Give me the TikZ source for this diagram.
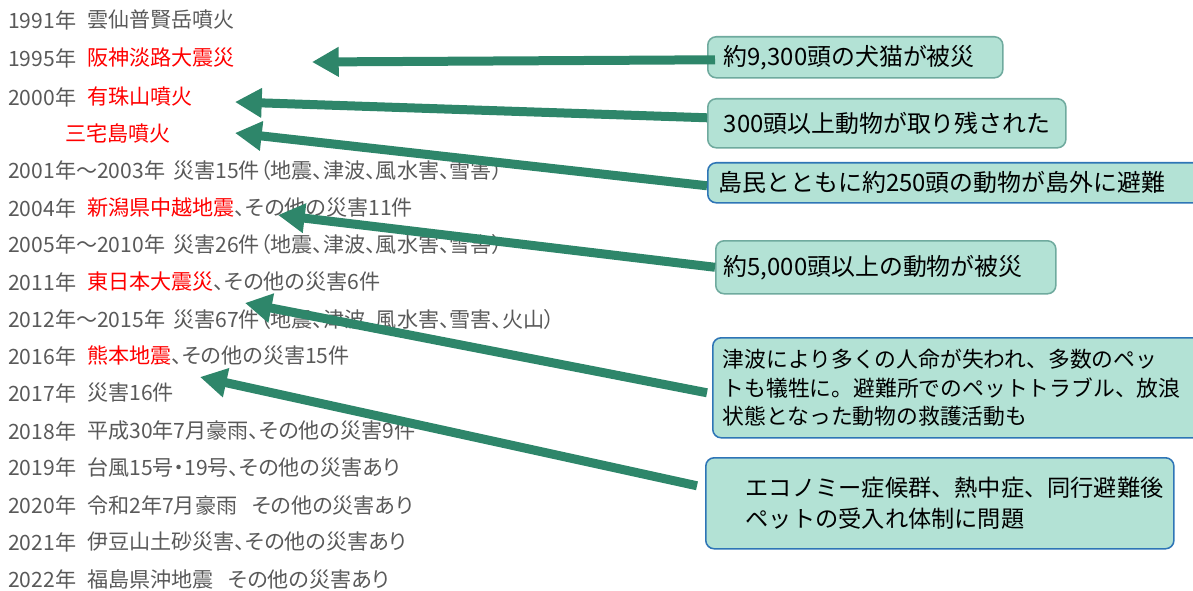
\documentclass[tikz,border=0pt]{standalone}
\usepackage{fontspec}
\setmainfont{Noto Sans CJK JP}
\newfontfamily\listfont[RawFeature=+palt]{Noto Sans CJK JP}
\usetikzlibrary{arrows.meta,calc}

\definecolor{listgray}{RGB}{89,89,89}
\definecolor{evred}{RGB}{255,0,0}
\definecolor{arrgreen}{RGB}{46,134,106}
\definecolor{boxfill}{RGB}{179,226,213}
\definecolor{boxedge}{RGB}{111,170,158}
\definecolor{boxblue}{RGB}{46,117,182}

\tikzset{
  yeartext/.style={anchor=west, inner sep=0pt, text=listgray,
    font=\listfont\fontsize{15}{18}\selectfont},
  evtext/.style={yeartext, text=evred},
  notebox/.style={draw=boxedge, line width=1.1pt, fill=boxfill,
    rounded corners=6pt, anchor=north west, align=left, inner ysep=0pt,
    font=\fontsize{17}{20.5}\selectfont},
  bluebox/.style={notebox, draw=boxblue},
  pointer/.style={draw=arrgreen, line width=6.4pt,
    -{Triangle[length=19pt,width=20pt]}}
}

\begin{document}
\begin{tikzpicture}[x=0.025cm,y=-0.025cm]
\useasboundingbox (0,0) rectangle (1193,591);

% list of years
\node[yeartext] (y1991) at (8,20)  {1991年};
\node[yeartext] (e1991) at (87,20) {雲仙普賢岳噴火};
\node[yeartext] (y1995) at (8,58)  {1995年};
\node[evtext]   (e1995) at (87,58) {阪神淡路大震災};
\node[yeartext] (y2000) at (8,97)  {2000年};
\node[evtext]   (e2000) at (87,97) {有珠山噴火};
\node[evtext]   (e2000b) at (65,133) {三宅島噴火};
\node[yeartext] (y2001) at (8,170) {2001年～2003年};
\node[yeartext] (e2001) at (173,170) {災害15件（地震、津波、風水害、雪害）};
\node[yeartext] (y2004) at (8,208) {2004年};
\node[yeartext] (e2004) at (87,208) {\textcolor{evred}{新潟県中越地震}、その他の災害11件};
\node[yeartext] (y2005) at (8,244) {2005年～2010年};
\node[yeartext] (e2005) at (173,244) {災害26件（地震、津波、風水害、雪害）};
\node[yeartext] (y2011) at (8,282) {2011年};
\node[yeartext] (e2011) at (87,282) {\textcolor{evred}{東日本大震災}、その他の災害6件};
\node[yeartext] (y2012) at (8,319) {2012年～2015年};
\node[yeartext] (e2012) at (173,319) {災害67件（地震、津波、風水害、雪害、火山）};
\node[yeartext] (y2016) at (8,356) {2016年};
\node[yeartext] (e2016) at (87,356) {\textcolor{evred}{熊本地震}、その他の災害15件};
\node[yeartext] (y2017) at (8,393) {2017年};
\node[yeartext] (e2017) at (87,393) {災害16件};
\node[yeartext] (y2018) at (8,431) {2018年};
\node[yeartext] (e2018) at (87,431) {平成30年7月豪雨、その他の災害9件};
\node[yeartext] (y2019) at (8,467) {2019年};
\node[yeartext] (e2019) at (87,467) {台風15号・19号、その他の災害あり};
\node[yeartext] (y2020) at (8,505) {2020年};
\node[yeartext] (e2020) at (87,505) {令和2年7月豪雨\hspace{0.7em}その他の災害あり};
\node[yeartext] (y2021) at (8,542) {2021年};
\node[yeartext] (e2021) at (87,542) {伊豆山土砂災害、その他の災害あり};
\node[yeartext] (y2022) at (8,579) {2022年};
\node[yeartext] (e2022) at (87,579) {福島県沖地震\hspace{0.7em}その他の災害あり};

% notes
\node[notebox, inner xsep=0.4cm, text width=6.575cm, minimum height=1.025cm]
  (b1) at (707,36) {約9,300頭の犬猫が被災};
\node[notebox, inner xsep=0.4cm, text width=8.15cm, minimum height=1.225cm]
  (b2) at (707,98) {300頭以上動物が取り残された};
\node[bluebox, inner xsep=0.275cm, text width=12.45cm, minimum height=1.0cm]
  (b3) at (707,162) {島民とともに約250頭の動物が島外に避難};
\node[notebox, inner xsep=0.2cm, text width=8.1cm, minimum height=1.325cm]
  (b4) at (715,240) {約5,000頭以上の動物が被災};
\node[bluebox, inner xsep=0.25cm, text width=12.5cm, minimum height=2.5cm,
  font=\fontsize{15.5}{20.5}\selectfont]
  (b5) at (712,337) {津波により多くの人命が失われ、多数のペッ\\
  トも犠牲に。避難所でのペットトラブル、放浪\\状態となった動物の救護活動も};
\node[bluebox, inner xsep=1cm, text width=9.7cm, minimum height=2.275cm,
  font=\fontsize{16.5}{21.5}\selectfont]
  (b6) at (705,457) {エコノミー症候群、熱中症、同行避難後\\ペットの受入れ体制に問題};

% arrow tips
\coordinate (t1) at (312,62);
\coordinate (t2) at (235,102);
\coordinate (t3) at (235,133);
\coordinate (t4) at (278,215);
\coordinate (t5) at (245,303);
\coordinate (t6) at (200,377);

\draw[pointer] ($(b1.west)+(8,2.5)$) -- (t1);
\draw[pointer] ($(b2.west)+(0,-5.5)$) -- (t2);
\draw[pointer] ($(b3.west)+(0,3)$) -- (t3);
\draw[pointer] (b4.west) -- (t4);
\draw[pointer] ($(b5.west)+(-5,5)$) -- (t5);
\draw[pointer] ($(b6.west)+(-8,-17.5)$) -- (t6);
\end{tikzpicture}
\end{document}
